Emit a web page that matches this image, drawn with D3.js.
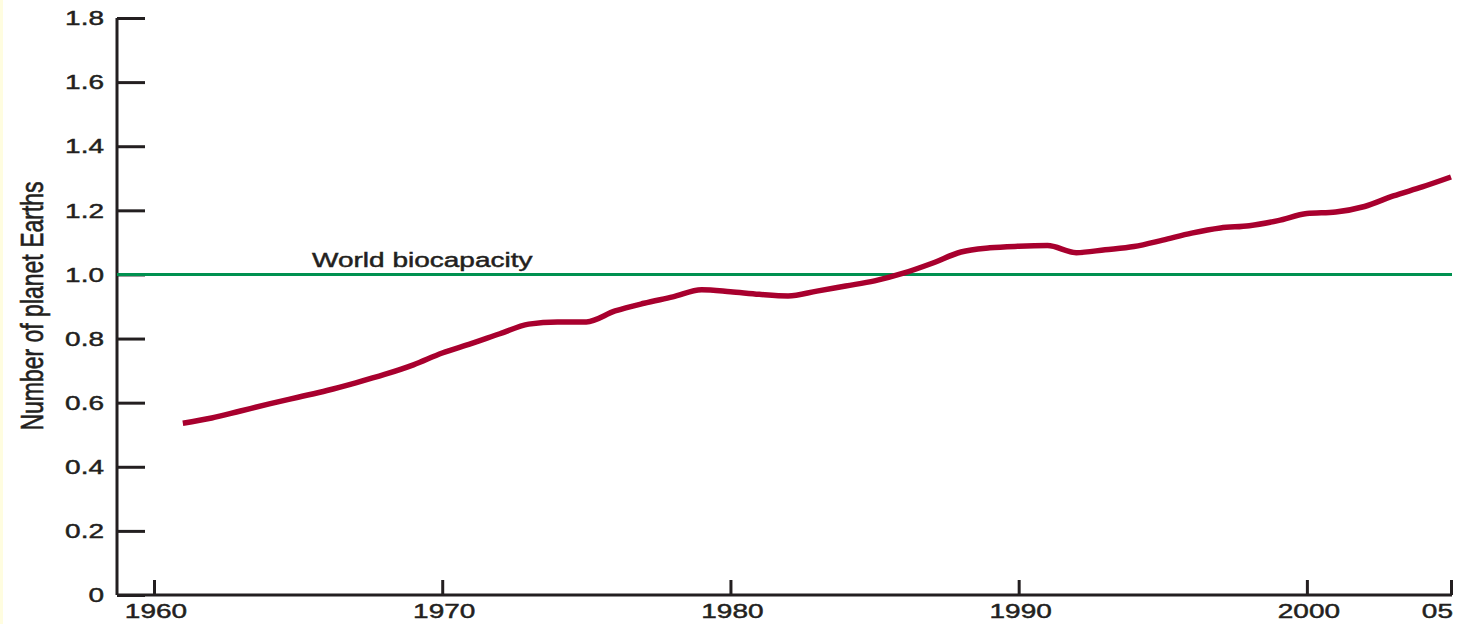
<!DOCTYPE html>
<html>
<head>
<meta charset="utf-8">
<script src="https://cdn.jsdelivr.net/npm/d3@7"></script>
<style>
  body { margin: 0; background: #fff; }
  svg { display: block; }
  text { font-family: "Liberation Sans", Arial, sans-serif; fill: #231f20; stroke: #231f20; stroke-width: 0.45px; }
</style>
</head>
<body>
<svg id="chart"></svg>
<script>
// data
const years = [1961, 1962, 1963, 1964, 1965, 1966, 1967, 1968, 1969, 1970,
  1971, 1972, 1973, 1974, 1975, 1976, 1977, 1978, 1979, 1980,
  1981, 1982, 1983, 1984, 1985, 1986, 1987, 1988, 1989, 1990,
  1991, 1992, 1993, 1994, 1995, 1996, 1997, 1998, 1999, 2000,
  2001, 2002, 2003, 2004, 2005];
const footprint = [0.536, 0.552, 0.574, 0.596, 0.617, 0.638, 0.662, 0.688, 0.718, 0.755,
  0.784, 0.815, 0.845, 0.852, 0.852, 0.886, 0.91, 0.93, 0.952, 0.946,
  0.938, 0.933, 0.948, 0.964, 0.98, 1.004, 1.035, 1.07, 1.083, 1.088,
  1.09, 1.068, 1.077, 1.087, 1.107, 1.129, 1.145, 1.152, 1.168, 1.19,
  1.195, 1.212, 1.245, 1.273, 1.304];
const biocapacity = 1.0;
const biocapacityLabel = "World biocapacity";
const yTicks = [0, 0.2, 0.4, 0.6, 0.8, 1.0, 1.2, 1.4, 1.6, 1.8];
const yTickLabels = ["0", "0.2", "0.4", "0.6", "0.8", "1.0", "1.2", "1.4", "1.6", "1.8"];
const xTicks = [1960, 1970, 1980, 1990, 2000, 2005];
const xTickLabels = ["1960", "1970", "1980", "1990", "2000", "05"];
const yTitle = "Number of planet Earths";

const W = 1458, H = 624;
const svg = d3.select("#chart").attr("width", W).attr("height", H);

// pale strip on the left edge
svg.append("rect").attr("x", 0).attr("y", 0).attr("width", 3).attr("height", H).attr("fill", "#fffde0");

const axisX = 117;   // where the y axis sits
const x = d3.scaleLinear().domain([1960, 2005]).range([154, 1451]);
const y = d3.scaleLinear().domain([0, 1.8]).range([595, 18]);
const stretch = 1.4; // the text in the picture is widened

// y axis with ticks pointing into the plot
const yAxis = svg.append("g")
  .attr("transform", `translate(${axisX},0)`)
  .call(d3.axisRight(y).tickValues(yTicks).tickSize(28).tickFormat(""));
yAxis.select(".domain").attr("d", `M0,${y(1.8)}V${y(0)}`);
yAxis.selectAll("path, line").attr("stroke", "#231f20").attr("stroke-width", 3);

// x axis with ticks pointing up
const xAxis = svg.append("g")
  .attr("transform", `translate(0,${y(0)})`)
  .call(d3.axisTop(x).tickValues(xTicks).tickSize(15).tickFormat(""));
xAxis.select(".domain").attr("d", `M${axisX},0H${x(2005) + 1}`);
xAxis.selectAll("path, line").attr("stroke", "#231f20").attr("stroke-width", 3);

// tick labels
svg.append("g").selectAll("text")
  .data(yTicks)
  .join("text")
  .attr("transform", d => `translate(104,${y(d)}) scale(${stretch},1)`)
  .attr("text-anchor", "end")
  .attr("dy", "0.36em")
  .attr("font-size", 20)
  .text((d, i) => yTickLabels[i]);

svg.append("g").selectAll("text")
  .data(xTicks)
  .join("text")
  .attr("transform", d => `translate(${x(d) + 2},618) scale(${stretch},1)`)
  .attr("text-anchor", (d, i) => i === xTicks.length - 1 ? "end" : "middle")
  .attr("font-size", 20)
  .text((d, i) => xTickLabels[i]);

// y title
svg.append("text")
  .attr("transform", `translate(43,306) scale(${stretch},1) rotate(-90)`)
  .attr("text-anchor", "middle")
  .attr("font-size", 23)
  .text(yTitle);

// biocapacity line
svg.append("line")
  .attr("x1", axisX).attr("x2", x(2005) + 1)
  .attr("y1", y(biocapacity)).attr("y2", y(biocapacity))
  .attr("stroke", "#009150").attr("stroke-width", 3);

svg.append("text")
  .attr("transform", `translate(312,267) scale(${stretch},1)`)
  .attr("font-size", 20)
  .text(biocapacityLabel);

// footprint line
const line = d3.line()
  .x((d, i) => x(years[i]))
  .y(d => y(d))
  .curve(d3.curveMonotoneX);

svg.append("path")
  .attr("d", line(footprint))
  .attr("fill", "none")
  .attr("stroke", "#a8002e")
  .attr("stroke-width", 5.5)
  .attr("stroke-linecap", "butt");
</script>
</body>
</html>
